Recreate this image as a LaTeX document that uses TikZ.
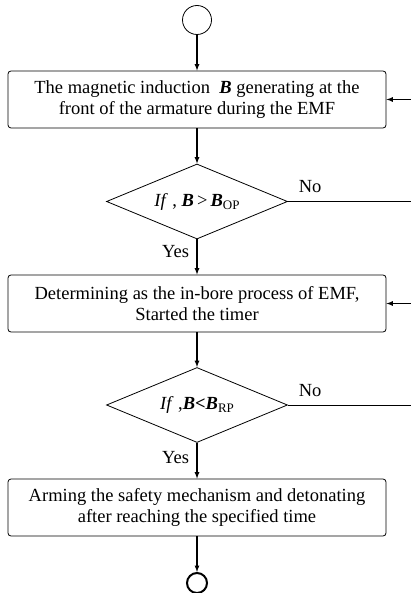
\documentclass[tikz,border=0pt]{standalone}
\usepackage{fontspec}
\setmainfont{Liberation Serif}
\usepackage{tikz}
\usetikzlibrary{shapes,arrows}
\usetikzlibrary{positioning,calc}

\newcommand{\lowsub}[1]{\raisebox{-3pt}{\fontsize{13}{14}\selectfont #1}}

\tikzset{
  procbox/.style={draw, rounded corners=3pt, line width=0.8pt, minimum width=378pt, minimum height=57pt, align=center, inner sep=0pt},
  decide/.style={draw, diamond, line width=0.8pt, minimum width=181pt, minimum height=75pt, aspect=2.4, inner sep=0pt},
  flow/.style={-latex, line width=1.2pt},
  back/.style={-latex, line width=1.2pt}
}

\begin{document}
\begin{tikzpicture}[x=1pt,y=-1pt,font=\fontsize{18.5}{20.5}\selectfont]
\useasboundingbox (0,0) rectangle (411,593);
\node[draw, circle, line width=0.8pt, minimum size=29pt, inner sep=0pt] (start) at (197,20) {};
\node[procbox] (field) at (197,99.5) {The magnetic induction \ \textbf{\textit{B}} generating at the\\front of the armature during the EMF};
\node[decide] (test1) at (197,201.5) {\textit{If} , \textbf{\textit{B}}\,>\,\textbf{\textit{B}}\lowsub{OP}};
\node[procbox] (timer) at (197,303.5) {Determining as the in-bore process of EMF,\\Started the timer};
\node[decide] (test2) at (197,405) {\textit{If} ,\textbf{\textit{B}}\textbf{<}\textbf{\textit{B}}\lowsub{RP}};
\node[procbox] (arm) at (197,507.5) {Arming the safety mechanism and detonating\\after reaching the specified time};
\node[draw, circle, line width=2pt, minimum size=20pt, inner sep=0pt] (stop) at (197,583) {};

% main line
\draw[flow] (start) -- (field);
\draw[flow] (field) -- (test1);
\draw[flow] (test1) -- node[left=4pt, pos=0.35] (yes1) {Yes} (timer);
\draw[flow] (timer) -- (test2);
\draw[flow] (test2) -- node[left=4pt, pos=0.4] (yes2) {Yes} (arm);
\draw[flow] (arm) -- (stop);

% no branches, they run out at the right edge
\coordinate (out1) at (411,201.5);
\coordinate (out2) at (411,405);
\coordinate (in1) at (411,99.5);
\coordinate (in2) at (411,303.5);
\draw[line width=0.8pt] (test1.east) -- node[above=5pt, pos=0.18] (no1) {No} (out1);
\draw[line width=0.8pt] (test2.east) -- node[above=5pt, pos=0.18] (no2) {No} (out2);
\draw[back] (in1) -- (field.east);
\draw[back] (in2) -- (timer.east);
\end{tikzpicture}
\end{document}
